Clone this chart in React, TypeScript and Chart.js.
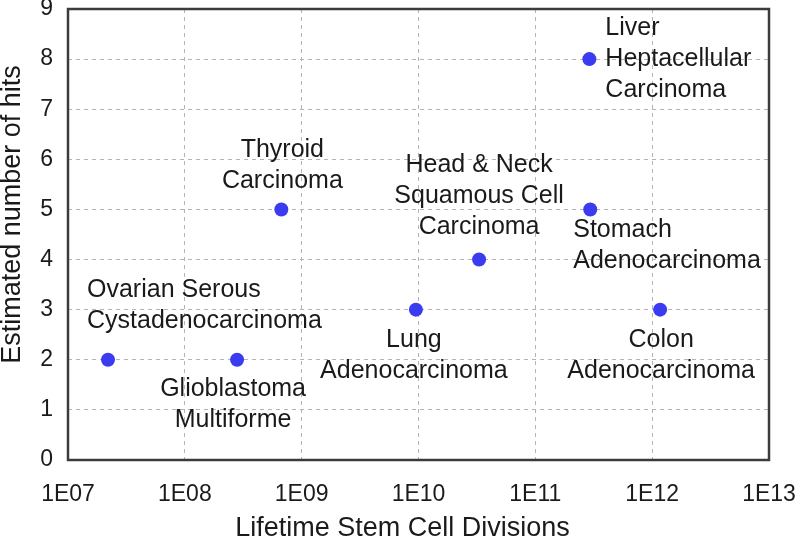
import React, { useEffect, useRef } from "react";
import { Chart, registerables } from "chart.js";

Chart.register(...registerables);

const cancerNames: string[][] = [
  ["Ovarian Serous", "Cystadenocarcinoma"],
  ["Glioblastoma", "Multiforme"],
  ["Thyroid", "Carcinoma"],
  ["Lung", "Adenocarcinoma"],
  ["Head & Neck", "Squamous Cell", "Carcinoma"],
  ["Stomach", "Adenocarcinoma"],
  ["Liver", "Heptacellular", "Carcinoma"],
  ["Colon", "Adenocarcinoma"],
];
const stemCellDivisions: number[] = [2.2e7, 2.8e8, 6.7e8, 9.5e9, 3.3e10, 2.95e11, 2.9e11, 1.17e12];
const estimatedHits: number[] = [2, 2, 5, 3, 4, 5, 8, 3];
const xTickValues: number[] = [1e7, 1e8, 1e9, 1e10, 1e11, 1e12, 1e13];
const xTickLabels: string[] = ["1E07", "1E08", "1E09", "1E10", "1E11", "1E12", "1E13"];
const yTickValues: number[] = [0, 1, 2, 3, 4, 5, 6, 7, 8, 9];
const xTitle = "Lifetime Stem Cell Divisions";
const yTitle = "Estimated number of hits";

// label placement styles (pixel offsets relative to each point)
const labelStyle: { align: CanvasTextAlign; dx: number; dy: number }[] = [
  { align: "left", dx: -21, dy: -70 },
  { align: "center", dx: -4, dy: 29 },
  { align: "center", dx: 1, dy: -59 },
  { align: "center", dx: -2, dy: 30 },
  { align: "center", dx: 0, dy: -94 },
  { align: "left", dx: -17, dy: 21 },
  { align: "left", dx: 16, dy: -31 },
  { align: "center", dx: 1, dy: 30 },
];

const FONT = "'Liberation Sans', Arial, Helvetica, sans-serif";
const TEXT = "#1a1a1a";

const overlayPlugin = {
  id: "overlay",
  afterDatasetsDraw(chart: any) {
    const ctx = chart.ctx;
    const area = chart.chartArea;
    const meta = chart.getDatasetMeta(0);
    ctx.save();
    // frame
    ctx.strokeStyle = "#3c3c3c";
    ctx.lineWidth = 2.5;
    ctx.strokeRect(area.left, area.top, area.right - area.left, area.bottom - area.top);
    // point labels
    ctx.fillStyle = TEXT;
    ctx.font = `25px ${FONT}`;
    ctx.textBaseline = "middle";
    meta.data.forEach((pt: any, i: number) => {
      const st = labelStyle[i];
      ctx.textAlign = st.align;
      cancerNames[i].forEach((line, j) => {
        ctx.fillText(line, pt.x + st.dx, pt.y + st.dy + j * 31);
      });
    });
    // axis titles
    ctx.font = `27px ${FONT}`;
    ctx.textAlign = "center";
    ctx.textBaseline = "middle";
    ctx.fillText(xTitle, (area.left + area.right) / 2 - 16, 529);
    ctx.translate(13, (area.top + area.bottom) / 2 - 20);
    ctx.rotate(-Math.PI / 2);
    ctx.fillText(yTitle, 0, 0);
    ctx.restore();
  },
};

export default function App() {
  const ref = useRef<HTMLCanvasElement | null>(null);
  useEffect(() => {
    if (!ref.current) return;
    const chart = new Chart(ref.current, {
      type: "scatter",
      data: {
        datasets: [
          {
            data: stemCellDivisions.map((x, i) => ({ x, y: estimatedHits[i] })),
            backgroundColor: "#3b3bf0",
            borderColor: "#3b3bf0",
            pointRadius: 7,
            pointHoverRadius: 7,
            borderWidth: 0,
          },
        ],
      },
      options: {
        animation: false,
        responsive: true,
        maintainAspectRatio: false,
        layout: { padding: { top: 9, right: 31, left: 0, bottom: 0 } },
        plugins: { legend: { display: false }, tooltip: { enabled: false } },
        scales: {
          x: {
            type: "logarithmic",
            min: 1e7,
            max: 1e13,
            afterBuildTicks: (scale: any) => {
              scale.ticks = xTickValues.map((v) => ({ value: v }));
            },
            afterFit: (scale: any) => {
              scale.height = 83;
              scale.paddingLeft = 0;
              scale.paddingRight = 0;
            },
            ticks: {
              autoSkip: false,
              maxRotation: 0,
              padding: 21,
              color: TEXT,
              font: { family: FONT, size: 23 },
              callback: (_v: any, i: number) => xTickLabels[i],
            },
            grid: {
              color: "#b4b4b4",
              lineWidth: 1,
              drawTicks: false,
            },
            border: { display: false, dash: [4, 4] },
            title: { display: false },
          },
          y: {
            type: "linear",
            min: 0,
            max: 9,
            afterBuildTicks: (scale: any) => {
              scale.ticks = yTickValues.map((v) => ({ value: v }));
            },
            afterFit: (scale: any) => {
              scale.width = 68;
              scale.paddingTop = 0;
              scale.paddingBottom = 0;
            },
            ticks: {
              padding: 15,
              color: TEXT,
              font: { family: FONT, size: 23 },
              callback: (v: any) => String(v),
            },
            grid: {
              color: "#b4b4b4",
              lineWidth: 1,
              drawTicks: false,
            },
            border: { display: false, dash: [4, 4] },
            title: { display: false },
          },
        },
      },
      plugins: [overlayPlugin],
    });
    return () => chart.destroy();
  }, []);
  return (
    <div style={{ position: "fixed", left: 0, top: 0, width: 800, height: 543, background: "#fff" }}>
      <canvas ref={ref} />
    </div>
  );
}
